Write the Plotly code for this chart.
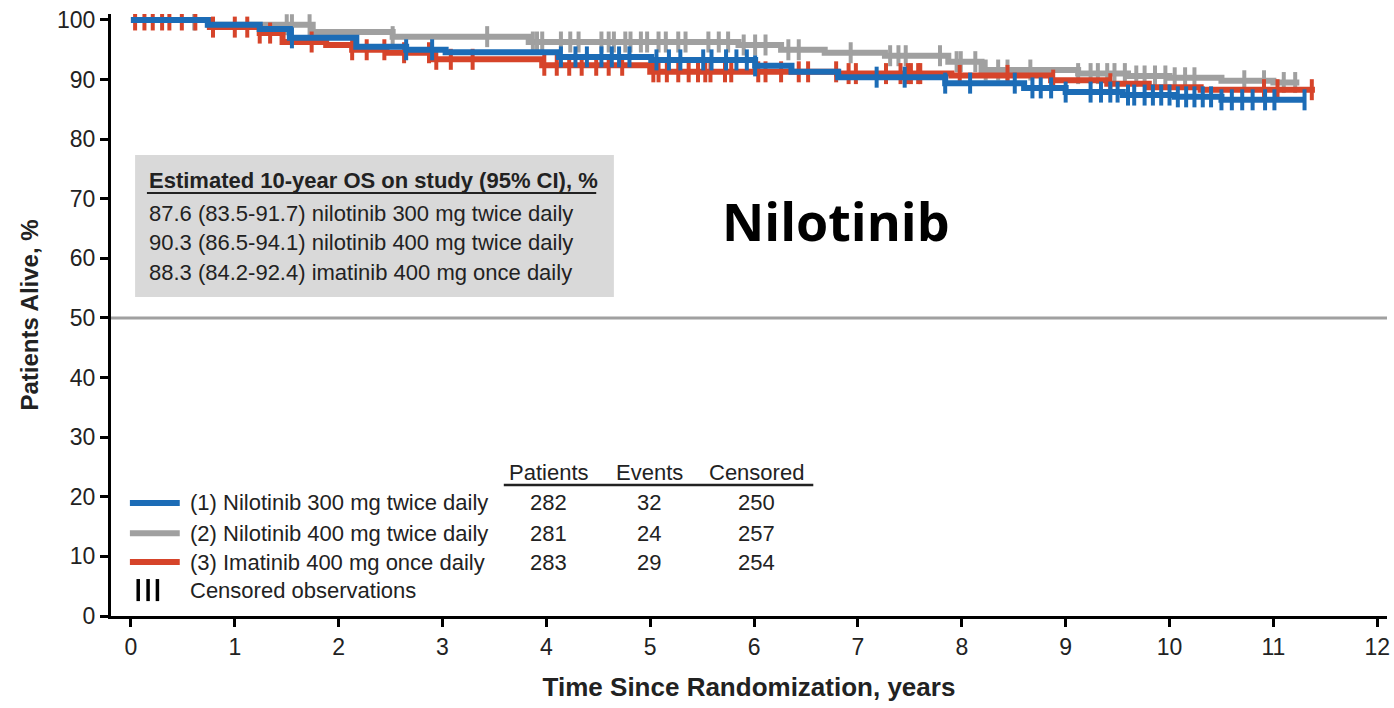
import numpy as np
import plotly.graph_objects as go

# ---------------- data ----------------
blue_t = [0, 0.74, 1.24, 1.53, 2.17, 2.65, 3.03, 4.12, 5.01, 6.01, 6.36, 6.81, 7.84, 8.6, 9.0, 9.55, 10.05, 10.5, 11.3]
blue_s = [100, 99.2, 98.5, 97.0, 95.5, 95.0, 94.6, 93.8, 93.3, 92.3, 91.3, 90.4, 89.4, 88.6, 87.9, 87.4, 87.1, 86.6, 86.6]
blue_c = [1.55, 2.65, 2.9, 4.14, 4.28, 4.39, 4.53, 4.63, 4.7, 4.8, 5.06, 5.18, 5.29, 5.51, 5.59, 5.73, 5.83,
          5.93, 6.01, 7.18, 7.84, 7.45, 8.08, 8.51, 8.68, 8.76, 8.86, 9.0, 9.24, 9.34, 9.43, 9.5, 9.6, 9.66,
          9.76, 9.84, 9.92, 10.0, 10.08, 10.16, 10.24, 10.32, 10.4, 10.5, 10.6, 10.7, 10.8, 10.92, 11.01, 11.3]

grey_t = [0, 0.75, 1.75, 2.52, 3.83, 5.85, 6.26, 6.68, 7.26, 7.87, 8.19, 9.12, 9.6, 10.0, 10.5, 11.0, 11.25]
grey_s = [100, 99.2, 98.0, 97.2, 96.3, 95.8, 95.0, 94.5, 94.0, 93.0, 91.6, 91.0, 90.6, 90.3, 89.8, 89.5, 89.5]
grey_c = [0.61, 1.5, 1.55, 1.72, 2.52, 3.43, 3.87, 3.91, 3.96, 4.14, 4.23, 4.31, 4.53, 4.6, 4.65, 4.76, 4.81,
          4.91, 4.97, 5.08, 5.15, 5.27, 5.34, 5.56, 5.66, 5.75, 5.9, 6.01, 6.11, 6.33, 6.43, 6.93, 7.31,
          7.39, 7.46, 7.79, 7.95, 7.99, 8.13, 8.23, 8.35, 8.44, 8.66, 9.12, 9.24, 9.31, 9.4, 9.47, 9.57,
          9.68, 9.76, 9.86, 9.96, 10.05, 10.15, 10.24, 10.72, 10.91, 11.1, 11.21]

red_t = [0, 0.76, 1.24, 1.46, 1.88, 2.13, 2.46, 2.9, 3.96, 5.0, 6.8, 7.9, 8.86, 9.4, 9.8, 10.3, 11.4]
red_s = [100, 98.8, 97.8, 96.3, 95.8, 95.0, 94.5, 93.4, 92.4, 91.3, 91.0, 90.7, 89.9, 89.3, 88.7, 88.3, 88.3]
red_c = [0.04, 0.13, 0.21, 0.30, 0.37, 0.49, 0.62, 0.79, 1.0, 1.12, 1.24, 1.34, 1.74, 2.13, 2.27, 2.44, 2.63,
         2.87, 2.94, 3.08, 3.29, 3.98, 4.1, 4.22, 4.34, 4.48, 4.6, 4.73, 5.03, 5.08, 5.16, 5.27, 5.37,
         5.46, 5.53, 5.58, 5.72, 5.78, 6.04, 6.11, 6.26, 6.43, 6.52, 6.79, 6.91, 6.98, 7.27, 7.41, 7.51,
         7.6, 7.48, 7.58, 7.98, 8.44, 8.88, 9.43, 10.91, 11.04, 11.37]

group_names = ["(1) Nilotinib 300 mg twice daily", "(2) Nilotinib 400 mg twice daily", "(3) Imatinib 400 mg once daily"]
patients = [282, 281, 283]
events = [32, 24, 29]
censored = [250, 257, 254]
os_lines = ["87.6 (83.5-91.7) nilotinib 300 mg twice daily",
            "90.3 (86.5-94.1) nilotinib 400 mg twice daily",
            "88.3 (84.2-92.4) imatinib 400 mg once daily"]
x_ticks = list(range(0, 13))
y_ticks = list(range(0, 101, 10))

BLUE = "rgb(28,108,182)"
GREY = "rgb(160,160,160)"
RED = "rgb(214,68,42)"
TXT = "#222222"
FONT = "Liberation Sans, Arial, sans-serif"
FS = 22


def step_val(t, s, c):
    t = np.asarray(t); s = np.asarray(s)
    idx = np.searchsorted(t, np.asarray(c), side="right") - 1
    return s[np.clip(idx, 0, len(s) - 1)]


fig = go.Figure()
for t, s, c, col in [(grey_t, grey_s, grey_c, GREY), (red_t, red_s, red_c, RED), (blue_t, blue_s, blue_c, BLUE)]:
    fig.add_trace(go.Scatter(x=t, y=s, mode="lines", line=dict(color=col, width=6, shape="hv"),
                             showlegend=False, hoverinfo="skip"))
    fig.add_trace(go.Scatter(x=c, y=step_val(t, s, c), mode="markers",
                             marker=dict(symbol="line-ns", size=15, line=dict(color=col, width=4)),
                             showlegend=False, hoverinfo="skip"))

shapes = []
# 50% reference line
shapes.append(dict(type="line", xref="paper", yref="y", x0=0, x1=1, y0=50, y1=50,
                   line=dict(color="rgb(160,160,160)", width=3), layer="below"))
# OS box
shapes.append(dict(type="rect", xref="x", yref="y", x0=0.04, x1=4.65, y0=53.5, y1=77.35,
                   fillcolor="rgb(217,217,217)", line=dict(width=0), layer="below"))
shapes.append(dict(type="line", xref="x", yref="y", x0=0.154, x1=4.48, y0=70.97, y1=70.97,
                   line=dict(color=TXT, width=2)))
# table underline
shapes.append(dict(type="line", xref="x", yref="y", x0=3.59, x1=6.57, y0=21.98, y1=21.98,
                   line=dict(color=TXT, width=2.5)))

annotations = []
annotations.append(dict(x=0.154, y=73.15, xref="x", yref="y", xanchor="left", yanchor="middle",
                        text="<b>Estimated 10-year OS on study (95% CI), %</b>", showarrow=False,
                        font=dict(family=FONT, size=FS, color=TXT)))
for i, line in enumerate(os_lines):
    annotations.append(dict(x=0.154, y=[67.6, 62.6, 57.55][i], xref="x", yref="y", xanchor="left",
                            yanchor="middle", text=line, showarrow=False,
                            font=dict(family=FONT, size=FS, color=TXT)))

annotations.append(dict(x=6.79, y=66.3, xref="x", yref="y", xanchor="center", yanchor="middle",
                        text="<b>Nilotinib</b>", showarrow=False,
                        font=dict(family="Open Sans, Lato, sans-serif", size=52, color="black")))

# legend
leg_y = [18.96, 13.9, 9.06]
for i, col in enumerate([BLUE, GREY, RED]):
    shapes.append(dict(type="line", xref="x", yref="y", x0=-0.01, x1=0.47, y0=leg_y[i], y1=leg_y[i],
                       line=dict(color=col, width=6)))
    annotations.append(dict(x=0.548, y=leg_y[i], xref="x", yref="y", xanchor="left", yanchor="middle",
                            text=group_names[i], showarrow=False, font=dict(family=FONT, size=FS, color=TXT)))
    for xc, val in zip([4.025, 4.99, 6.02], [patients[i], events[i], censored[i]]):
        annotations.append(dict(x=xc, y=leg_y[i], xref="x", yref="y", xanchor="center", yanchor="middle",
                                text=str(val), showarrow=False, font=dict(family=FONT, size=FS, color=TXT)))
for xc in [0.07, 0.165, 0.255]:
    shapes.append(dict(type="line", xref="x", yref="y", x0=xc, x1=xc, y0=2.5, y1=6.2,
                       line=dict(color="black", width=3.5)))
annotations.append(dict(x=0.548, y=4.36, xref="x", yref="y", xanchor="left", yanchor="middle",
                        text="Censored observations", showarrow=False, font=dict(family=FONT, size=FS, color=TXT)))
for xc, h in zip([4.025, 4.99, 6.02], ["Patients", "Events", "Censored"]):
    annotations.append(dict(x=xc, y=24.16, xref="x", yref="y", xanchor="center", yanchor="middle",
                            text=h, showarrow=False, font=dict(family=FONT, size=FS, color=TXT)))

fig.update_layout(
    width=1394, height=708,
    margin=dict(l=111, r=4, t=14, b=92),
    paper_bgcolor="white", plot_bgcolor="white",
    shapes=shapes, annotations=annotations,
    xaxis=dict(range=[-0.192, 12.094], tickvals=x_ticks, ticktext=[str(v) for v in x_ticks],
               showgrid=False, zeroline=False, showline=True, linecolor="black", linewidth=3,
               ticks="outside", ticklen=8, tickwidth=3, tickcolor="black",
               tickfont=dict(family=FONT, size=23, color=TXT),
               title=dict(text="<b>Time Since Randomization, years</b>", standoff=20,
                          font=dict(family=FONT, size=26, color=TXT))),
    yaxis=dict(range=[0, 101.0], tickvals=y_ticks, ticktext=[str(v) for v in y_ticks],
               showgrid=False, zeroline=False, showline=True, linecolor="black", linewidth=3,
               ticks="outside", ticklen=8, tickwidth=3, tickcolor="black",
               tickfont=dict(family=FONT, size=23, color=TXT),
               title=dict(text="<b>Patients Alive, %</b>", standoff=12,
                          font=dict(family=FONT, size=24, color=TXT))),
)

fig.write_html("out.html")
